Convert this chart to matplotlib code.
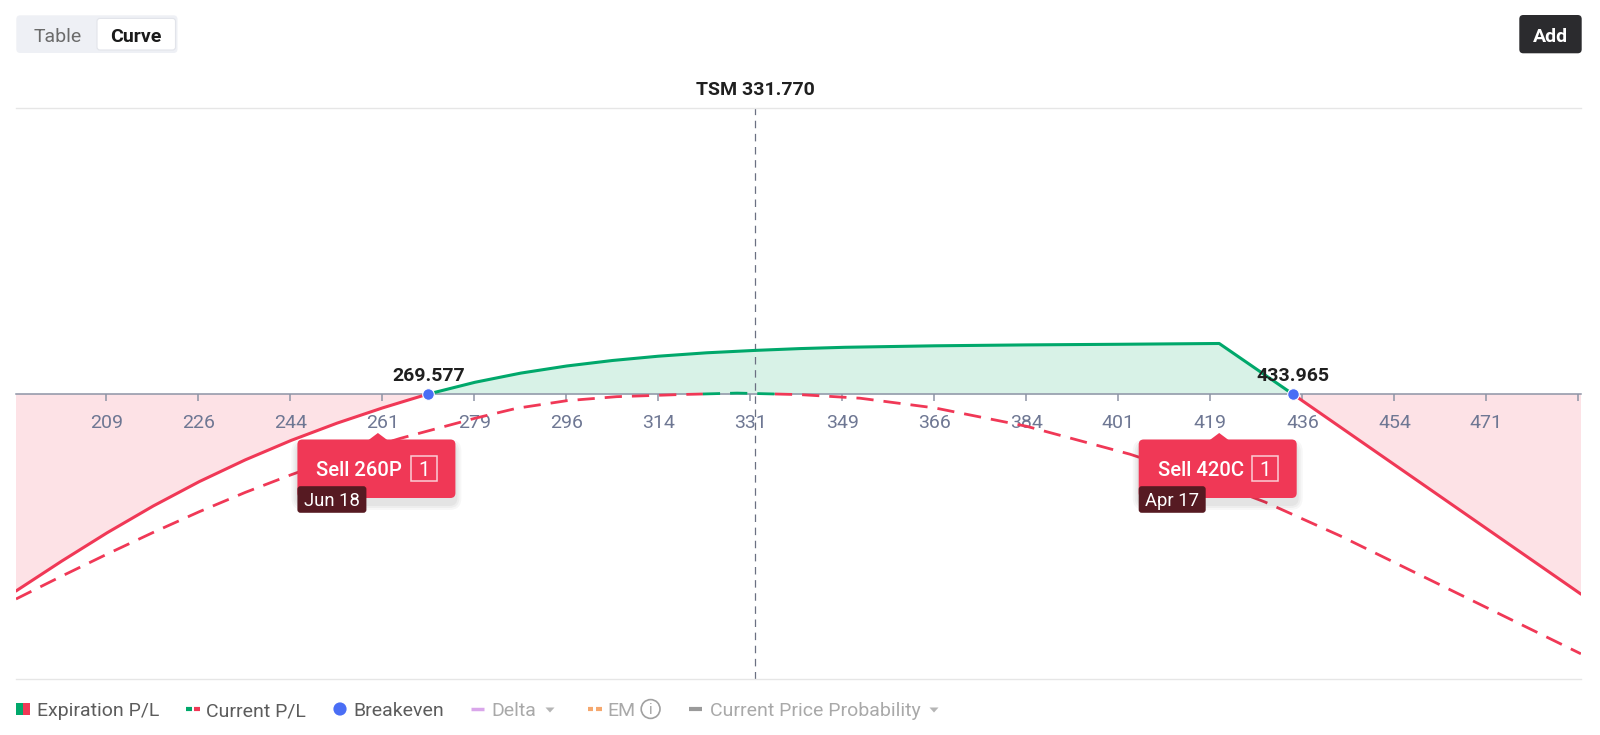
import numpy as np
import matplotlib
matplotlib.use("Agg")
import matplotlib.pyplot as plt
from matplotlib.patches import FancyBboxPatch, Polygon, Circle, Rectangle

plt.rcParams['font.family'] = ['Roboto', 'DejaVu Sans']

# ---------------- data ----------------
symbol = "TSM"
current_price = 331.770
breakevens = [269.577, 433.965]

# Expiration P/L ($ per contract)
exp_price = [191.17, 199.84, 208.53, 217.27, 226.03, 234.77, 243.52, 252.21, 260.90, 265.3,
             269.577, 278.46, 287.17, 295.90, 304.61, 313.32, 322.52, 331.71, 340.27, 348.83,
             365.94, 383.38, 400.80, 420.0, 433.965, 488.81]
exp_pl = [-5433, -4611, -3825, -3089, -2416, -1817, -1279, -805, -383, -188,
          0, 323, 576, 772, 924, 1042, 1136, 1202, 1252, 1288,
          1329, 1354, 1371, 1393, 0, -5520]

# Current P/L ($ per contract)
cur_price = [191.17, 199.84, 208.53, 217.27, 226.03, 234.77, 243.52, 253.85, 264.19, 278.46,
             286.39, 295.90, 305.41, 313.32, 317.5, 321.8, 328.3, 335.5, 340.27, 351.68,
             365.94, 383.38, 403.02, 416.33, 428.69, 442.96, 458.17, 473.39, 488.79]
cur_pl = [-5654, -5025, -4413, -3817, -3246, -2714, -2226, -1693, -1227, -670,
          -394, -185, -74, -36, -15, 0, 25, 0, -17, -116,
          -385, -891, -1660, -2297, -2978, -3909, -4990, -6071, -7165]

tick_labels = ["209", "226", "244", "261", "279", "296", "314", "331", "349",
               "366", "384", "401", "419", "436", "454", "471", ""]
tick_first = 208.32
tick_step = 17.5

legs = ["Sell 260P", "Sell 420C"]
leg_strikes = [260, 420]
leg_qty = ["1", "1"]
leg_expiry = ["Jun 18", "Apr 17"]

legend_items = ["Expiration P/L", "Current P/L", "Breakeven", "Delta", "EM",
                "Current Price Probability"]

# ---------------- style ----------------
RED = '#F03856'
GREEN = '#00A86B'
PINK_FILL = '#FDE2E6'
GREEN_FILL = '#D8F2E7'
AXIS_C = '#8E94A6'
TICK_TXT = '#6E7793'
BLUE = '#4A6EF5'
W, H = 1600, 735

fig = plt.figure(figsize=(W / 100, H / 100), dpi=100)
fig.patch.set_facecolor('white')

ax_l, ax_r, ax_t, ax_b = 16, 1581, 107.5, 678.6
ax = fig.add_axes([ax_l / W, 1 - ax_b / H, (ax_r - ax_l) / W, (ax_b - ax_t) / H])
ax.set_xlim(191.17, 488.81)
ax.set_ylim(-7849, 7901)

xp = np.array(exp_price)
yp = np.array(exp_pl, dtype=float)
ax.fill_between(xp, yp, 0, where=yp <= 0, interpolate=True, color=PINK_FILL, lw=0, zorder=1)
ax.fill_between(xp, yp, 0, where=yp >= 0, interpolate=True, color=GREEN_FILL, lw=0, zorder=1)

y_red = np.ma.masked_where(yp > 0, yp)
y_grn = np.ma.masked_where(yp < 0, yp)
ax.plot(xp, y_red, color=RED, lw=2.2, zorder=4, solid_capstyle='round', solid_joinstyle='round')
ax.plot(xp, y_grn, color=GREEN, lw=2.2, zorder=4, solid_capstyle='round', solid_joinstyle='round')

cp = np.array(cur_price)
cy = np.array(cur_pl, dtype=float)
dash = (6.2, 3.6)
ax.plot(cp, np.ma.masked_where(cy > 0, cy), color=RED, lw=2.0, dashes=dash, zorder=3)
ax.plot(cp, np.ma.masked_where(cy < 0, cy), color=GREEN, lw=2.0, dashes=dash, zorder=3)

# current price line + title
ax.axvline(current_price, color='#6B7082', lw=0.9, dashes=(6, 4.5), zorder=2)
ax.annotate(f"{symbol} {current_price:.3f}", xy=(current_price, 1),
            xycoords=('data', 'axes fraction'), xytext=(0, 9), textcoords='offset points',
            ha='center', va='baseline', fontsize=14, fontweight='bold', color='#1F1F1F')

# axes frame
for s in ['left', 'right']:
    ax.spines[s].set_visible(False)
ax.spines['top'].set_color('#E6E6E6')
ax.spines['top'].set_linewidth(1.0)
ax.spines['bottom'].set_position(('data', 0))
ax.spines['bottom'].set_color(AXIS_C)
ax.spines['bottom'].set_linewidth(1.1)
ax.spines['bottom'].set_zorder(2.6)
ax.plot([0, 1], [0, 0], transform=ax.transAxes, color='#E6E6E6', lw=1.0, clip_on=False)
ax.set_yticks([])
ticks = [tick_first + tick_step * i for i in range(len(tick_labels))]
ax.set_xticks(ticks)
ax.tick_params(axis='x', direction='out', length=5, width=1.1, color=AXIS_C, labelbottom=False)
for t, lab in zip(ticks, tick_labels):
    ax.annotate(lab, xy=(t, 0), xytext=(0, -24.7), textcoords='offset points',
                ha='center', va='baseline', fontsize=14, color=TICK_TXT, zorder=2)

# breakevens
ax.scatter(breakevens, [0, 0], s=70, color=BLUE, edgecolor='white', linewidth=0.8, zorder=6)
for b in breakevens:
    ax.annotate(f"{b:.3f}", xy=(b, 0), xytext=(0, 9.6), textcoords='offset points',
                ha='center', va='baseline', fontsize=14, fontweight='bold', color='#1F1F1F',
                zorder=7)

# ---------------- overlay in pixel coords ----------------
ov = fig.add_axes([0, 0, 1, 1], zorder=10)
ov.set_xlim(0, W)
ov.set_ylim(H, 0)
ov.axis('off')
ov.patch.set_alpha(0)


def rbox(x, y, w, h, r, **kw):
    p = FancyBboxPatch((x, y), w, h, boxstyle=f"round,pad=0,rounding_size={r}", **kw)
    ov.add_patch(p)
    return p


# tooltips for legs
for leg, k, q, exp_d in zip(legs, leg_strikes, leg_qty, leg_expiry):
    dx, dy = ax.transData.transform((k, 0))
    sx, zy = dx, H - dy
    left, top, bw, bh = sx - 80.5, zy + 45.5, 158, 58.5
    for i, a in enumerate([0.03, 0.035, 0.04]):
        g = 6 - 2 * i
        rbox(left - g, top + 6 - g, bw + 2 * g, bh + 2 * g, 6 + g, fc='black', ec='none', alpha=a)
    rbox(left, top, bw, bh, 5, fc=RED, ec='none')
    ov.add_patch(Polygon([(sx - 10, top + 1), (sx, top - 6.5), (sx + 10, top + 1)],
                         closed=True, fc=RED, ec='none'))
    ov.text(left + 19, top + 37, leg, color='white', fontsize=14.6, fontweight='medium',
            ha='left', va='baseline')
    ov.add_patch(Rectangle((left + 113.3, top + 16.7), 26, 25, fill=False,
                           ec=(1, 1, 1, 0.75), lw=1.1))
    ov.text(left + 126.3, top + 37, q, color='white', fontsize=14.6, ha='center', va='baseline')
    tw = 69 if exp_d.startswith("Jun") else 67
    rbox(left, top + 46.7, tw, 26.6, 3, fc='#561A22', ec='none')
    ov.text(left + tw / 2, top + 66.5, exp_d, color='white', fontsize=13.3, ha='center',
            va='baseline')

# toggle buttons
rbox(16.3, 15.3, 161.2, 37.7, 4, fc='#EEF0F5', ec='none')
rbox(97, 18.4, 78.5, 31.6, 3, fc='white', ec='#E2E4EA', lw=0.8)
ov.text(58, 41.7, "Table", fontsize=14, color='#6B6B6B', ha='center', va='baseline')
ov.text(136.3, 41.7, "Curve", fontsize=14, color='#1A1A1A', ha='center', va='baseline',
        fontweight='bold')
# add button
rbox(1519.3, 15, 62.4, 38.3, 4, fc='#2B2B2E', ec='none')
ov.text(1550.5, 41.7, "Add", fontsize=14, color='white', ha='center', va='baseline',
        fontweight='bold')

# legend
LY = 709
BASE = 716
DARK = '#5C5C5C'
LIGHT = '#A9A9A9'
ov.add_patch(Rectangle((16, LY - 6.3), 7, 12.6, fc=GREEN, ec='none'))
ov.add_patch(Rectangle((23, LY - 6.3), 7, 12.6, fc=RED, ec='none'))
ov.text(36.7, BASE, legend_items[0], fontsize=14, color=DARK, va='baseline')
ov.plot([185.7, 191.7], [LY, LY], color=GREEN, lw=3, solid_capstyle='butt')
ov.plot([194.3, 200], [LY, LY], color=RED, lw=3, solid_capstyle='butt')
ov.text(205.7, BASE, legend_items[1], fontsize=14, color=DARK, va='baseline')
ov.add_patch(Circle((340, LY), 6.6, fc=BLUE, ec='none'))
ov.text(353.3, BASE, legend_items[2], fontsize=14, color=DARK, va='baseline')
ov.plot([471, 484], [LY, LY], color='#D9A6EA', lw=2.5, solid_capstyle='butt')
ov.text(491.4, BASE, legend_items[3], fontsize=14, color=LIGHT, va='baseline')
ov.add_patch(Polygon([(545.5, LY - 1.5), (554.5, LY - 1.5), (550, LY + 3.5)],
                     fc='#B5B5B5', ec='none'))
ov.plot([587.5, 593.3], [LY, LY], color='#F5A86E', lw=3, solid_capstyle='butt')
ov.plot([595.8, 601.5], [LY, LY], color='#F5A86E', lw=3, solid_capstyle='butt')
ov.text(607.1, BASE, legend_items[4], fontsize=14, color=LIGHT, va='baseline')
ov.add_patch(Circle((650.6, LY), 9.4, fc='none', ec='#A0A0A0', lw=1.2))
ov.text(650.6, LY + 0.5, "i", fontsize=10.5, color='#A0A0A0', ha='center', va='center')
ov.plot([688.5, 701.9], [LY, LY], color='#9A9A9A', lw=3, solid_capstyle='butt')
ov.text(709.6, BASE, legend_items[5], fontsize=14, color=LIGHT, va='baseline')
ov.add_patch(Polygon([(929.5, LY - 1.5), (938.5, LY - 1.5), (934, LY + 3.5)],
                     fc='#B5B5B5', ec='none'))

fig.savefig("out.png", dpi=100)
